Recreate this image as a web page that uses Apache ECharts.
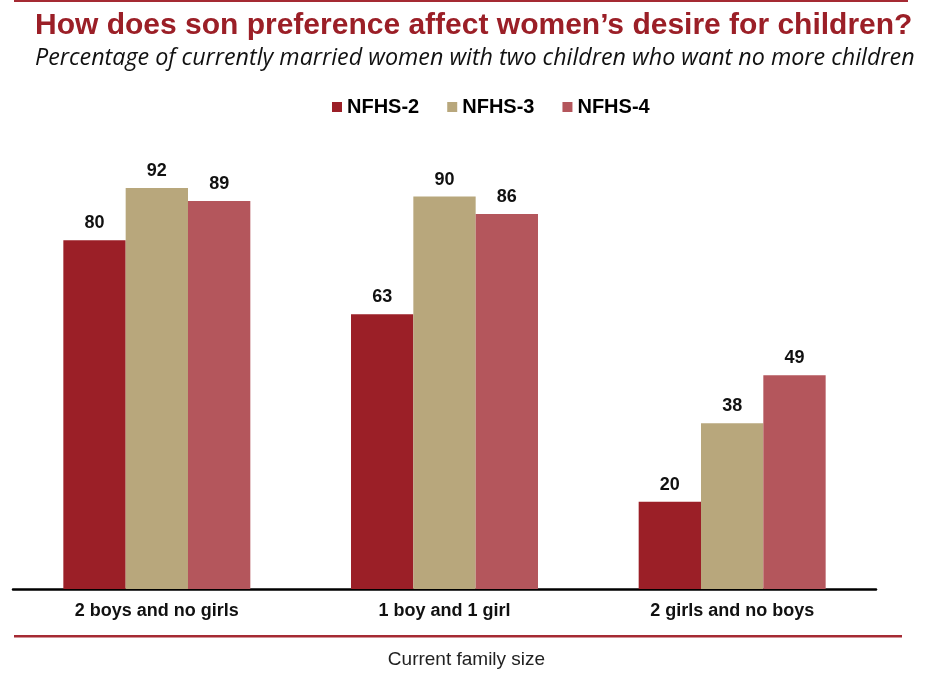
<!DOCTYPE html>
<html><head><meta charset="utf-8">
<script src="https://cdn.jsdelivr.net/npm/echarts@6/dist/echarts.min.js"></script>
<style>html,body{margin:0;padding:0;background:#fff}#c{width:933px;height:673px}</style>
</head><body><div id="c"></div>
<script>
const categories = ['2 boys and no girls', '1 boy and 1 girl', '2 girls and no boys'];
const seriesNames = ['NFHS-2', 'NFHS-3', 'NFHS-4'];
const nfhs2 = [80, 63, 20];
const nfhs3 = [92, 90, 38];
const nfhs4 = [89, 86, 49];
const colors = ['#9B1F27', '#B8A77C', '#B4565C'];

const chart = echarts.init(document.getElementById('c'), null, {renderer: 'canvas'});
const data = [nfhs2, nfhs3, nfhs4];
chart.setOption({
  animation: false,
  title: [
    {text: 'How does son preference affect women\u2019s desire for children?', left: 30, top: 6,
     textStyle: {color: '#9B1F27', fontFamily: 'Liberation Sans', fontWeight: 'bold', fontSize: 30}},
    {text: 'Percentage of currently married women with two children who want no more children', left: 30, top: 42,
     textStyle: {color: '#111', fontFamily: 'Open Sans', fontStyle: 'italic', fontWeight: 'normal', fontSize: 23.3}},
    {text: 'Current family size', left: 'center', top: 645,
     textStyle: {color: '#222', fontFamily: 'Liberation Sans', fontWeight: 'normal', fontSize: 19}}
  ],
  legend: {
    data: seriesNames, top: 92, left: 327, itemWidth: 10, itemHeight: 10, itemGap: 28,
    icon: 'rect',
    textStyle: {fontFamily: 'Liberation Sans', fontWeight: 'bold', fontSize: 20, color: '#000'}
  },
  grid: {left: 13, right: 57, top: 153, bottom: 84},
  xAxis: {
    type: 'category', data: categories,
    axisLine: {lineStyle: {color: '#000', width: 2.5}},
    axisTick: {show: false},
    axisLabel: {fontFamily: 'Liberation Sans', fontWeight: 'bold', fontSize: 18, color: '#111', margin: 13}
  },
  yAxis: {type: 'value', min: 0, max: 100, show: false, splitLine: {show: false}},
  series: seriesNames.map((n, i) => ({
    name: n, type: 'bar', data: data[i], barGap: '0%', barCategoryGap: '35%',
    itemStyle: {color: colors[i]},
    label: {show: true, position: 'top', distance: 8, fontFamily: 'Liberation Sans', fontWeight: 'bold', fontSize: 18, color: '#111'}
  })),
  graphic: [
    {type: 'rect', shape: {x: 14, y: 0, width: 894, height: 2}, style: {fill: '#A52A33'}},
    {type: 'rect', shape: {x: 14, y: 635, width: 888, height: 2.5}, style: {fill: '#A52A33'}}
  ]
});
</script></body></html>
